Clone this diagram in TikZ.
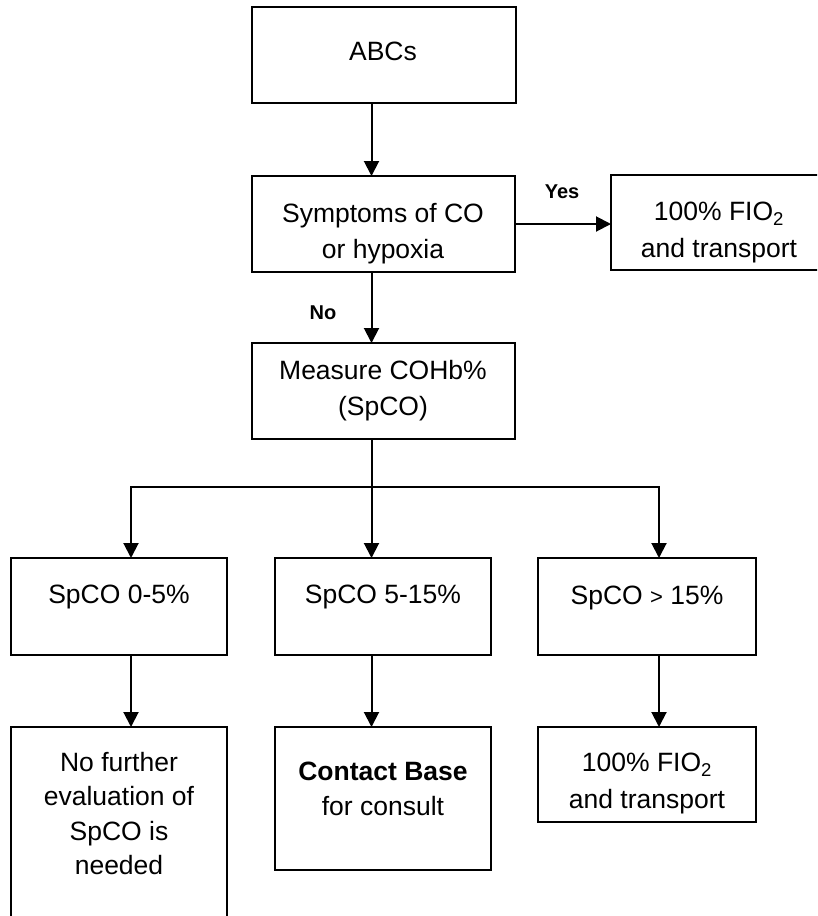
\documentclass[tikz,border=0pt]{standalone}
\usepackage{fontspec}
\setmainfont{Liberation Sans}
\usetikzlibrary{arrows.meta}
\begin{document}
\begin{tikzpicture}[x=1pt,y=-1pt,
  box/.style={draw, line width=2pt, inner sep=0pt, outer sep=0pt},
  txt/.style={inner sep=0pt, align=center, anchor=north, font=\fontsize{26.5}{36.5}\selectfont},
  lab/.style={inner sep=0pt, font=\bfseries\fontsize{20}{24}\selectfont},
  arr/.style={line width=2pt, -{Triangle[length=15pt,width=15pt]}},
  ln/.style={line width=2pt}]
\useasboundingbox (0,0) rectangle (817,916);
\clip (0,0) rectangle (817,916);
% boxes
\node[box, minimum width=264pt, minimum height=96pt] (abc) at (384,55) {};
\node[box, minimum width=263pt, minimum height=96pt] (sym) at (383.5,224) {};
\node[box, minimum width=216pt, minimum height=95pt] (fioa) at (719,222.5) {};
\node[box, minimum width=263pt, minimum height=96pt] (meas) at (383.5,391) {};
\node[box, minimum width=216pt, minimum height=97pt] (sa) at (119,606.5) {};
\node[box, minimum width=216pt, minimum height=97pt] (sb) at (383,606.5) {};
\node[box, minimum width=218pt, minimum height=97pt] (sc) at (647,606.5) {};
\node[box, minimum width=216pt, minimum height=260pt, anchor=north] (nf) at (119,727) {};
\node[box, minimum width=216pt, minimum height=143pt] (cb) at (383,798.5) {};
\node[box, minimum width=218pt, minimum height=95pt] (fiob) at (647,774.5) {};
% texts
\node[txt] (abct) at (383,42) {ABCs};
\node[txt] (symt) at (383,203) {Symptoms of CO\\or hypoxia};
\node[txt] (fioat) at (719,202) {100\% FIO\textsubscript{2}\\and transport};
\node[txt] (meast) at (383,360) {Measure COHb\%\\(SpCO)};
\node[txt] (sat) at (119,585) {SpCO 0-5\%};
\node[txt] (sbt) at (383,585) {SpCO 5-15\%};
\node[txt] (sct) at (647,586) {SpCO {\fontsize{22}{22}\selectfont >} 15\%};
\node[txt, font=\fontsize{26.5}{34.5}\selectfont] (nft) at (119,752) {No further\\evaluation of\\SpCO is\\needed};
\node[txt, font=\fontsize{26.5}{35}\selectfont] (cbt) at (383,762) {\textbf{Contact Base}\\for consult};
\node[txt] (fiobt) at (647,753) {100\% FIO\textsubscript{2}\\and transport};
% labels
\node[lab] (yes) at (562,192) {Yes};
\node[lab] (no) at (323,313) {No};
% connector x positions
\coordinate (cx) at (371.5,0);
\coordinate (lx) at (131,0);
\coordinate (rx) at (659,0);
\coordinate (bj) at (371.5,487);
% connectors
\draw[arr] (abc.south -| cx) -- (sym.north -| cx);
\draw[arr] (sym.east) -- (fioa.west |- sym.east);
\draw[arr] (sym.south -| cx) -- (meas.north -| cx);
\draw[ln] (meas.south -| cx) -- (bj);
\draw[arr] (bj) -- (sb.north -| cx);
\draw[arr] (bj) -| (sa.north -| lx);
\draw[arr] (bj) -| (sc.north -| rx);
\draw[arr] (sa.south -| lx) -- (nf.north -| lx);
\draw[arr] (sb.south -| cx) -- (cb.north -| cx);
\draw[arr] (sc.south -| rx) -- (fiob.north -| rx);
\end{tikzpicture}
\end{document}
